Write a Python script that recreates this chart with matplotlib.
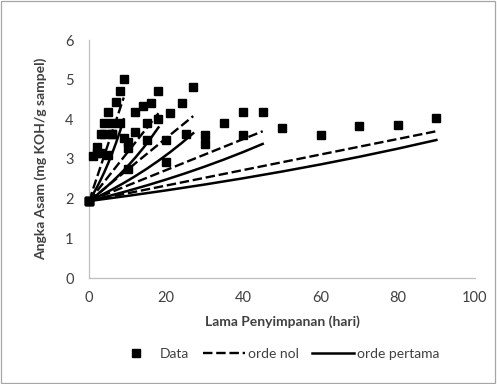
import numpy as np
import matplotlib
matplotlib.use("Agg")
import matplotlib.pyplot as plt
from matplotlib.patches import Rectangle
from matplotlib.lines import Line2D

plt.rcParams['font.family'] = ['Lato', 'DejaVu Sans']

# Acid value measurements per storage series (days, mg KOH/g sample)
t_a = [0, 1, 2, 3, 4, 5, 6, 7, 8, 9]
y_a = [1.94, 3.07, 3.30, 3.63, 3.91, 4.19, 3.91, 4.44, 4.72, 5.01]

t_b = [0, 2, 4, 6, 8, 10, 12, 14, 16, 18]
y_b = [1.94, 3.15, 3.63, 3.63, 3.91, 3.43, 4.19, 4.33, 4.42, 4.72]

t_c = [0, 3, 6, 9, 12, 15, 18, 21, 24, 27]
y_c = [1.94, 3.15, 3.63, 3.52, 3.67, 3.91, 4.02, 4.16, 4.42, 4.81]

t_d = [0, 5, 10, 15, 20, 25, 30, 35, 40, 45]
y_d = [1.94, 3.10, 3.27, 3.48, 2.93, 3.64, 3.39, 3.90, 3.60, 4.18]

t_e = [0, 10, 20, 30, 40, 50, 60, 70, 80, 90]
y_e = [1.94, 2.76, 3.48, 3.60, 4.18, 3.78, 3.60, 3.83, 3.85, 4.03]

# Rate constants for the kinetic models of each series
k_zero = [0.290, 0.123, 0.0793, 0.0391, 0.01956]
k_first = [0.0804, 0.0373, 0.0234, 0.01234, 0.00649]
c0 = 1.94

series_t = [t_a, t_b, t_c, t_d, t_e]
series_y = [y_a, y_b, y_c, y_d, y_e]

x_ticks = [0, 20, 40, 60, 80, 100]
y_ticks = [0, 1, 2, 3, 4, 5, 6]

fig = plt.figure(figsize=(4.97, 3.84), dpi=100)
ax = fig.add_axes([89 / 497, 106 / 384, 386 / 497, 238 / 384])

for t, y, k0, k1 in zip(series_t, series_y, k_zero, k_first):
    t = np.asarray(t, dtype=float)
    ax.plot(t, c0 + k0 * t, color='black', lw=1.7, ls=(0, (4, 1.6)),
            solid_capstyle='butt', zorder=2)
    ax.plot(t, c0 * np.exp(k1 * t), color='black', lw=1.8, zorder=2)

for t, y in zip(series_t, series_y):
    ax.plot(t, y, ls='none', marker='s', ms=6.3, color='black', zorder=3,
            clip_on=False)

ax.set_xlim(0, 100)
ax.set_ylim(0, 6)
ax.set_xticks(x_ticks)
ax.set_yticks(y_ticks)
ax.tick_params(length=0, labelsize=10.5, colors='#404040')
ax.tick_params(axis='y', pad=11)
ax.tick_params(axis='x', pad=9)
for s in ['top', 'right']:
    ax.spines[s].set_visible(False)
for s in ['left', 'bottom']:
    ax.spines[s].set_color('#bfbfbf')
    ax.spines[s].set_linewidth(0.9)

ax.set_xlabel('Lama Penyimpanan (hari)', fontsize=10, fontweight='bold',
              color='#404040', labelpad=8)
ax.set_ylabel('Angka Asam (mg KOH/g sampel)', fontsize=10, fontweight='bold',
              color='#404040', labelpad=13)

handles = [
    Line2D([], [], ls='none', marker='s', ms=6.3, color='black'),
    Line2D([], [], color='black', lw=1.7, ls=(0, (4, 1.6))),
    Line2D([], [], color='black', lw=1.8),
]
fig.legend(handles, ['Data', 'orde nol', 'orde pertama'], loc='center',
           bbox_to_anchor=(0.558, 1 - 354 / 384), ncol=3, frameon=False,
           fontsize=10, handlelength=3, handletextpad=0.2, columnspacing=1.0,
           labelcolor='#404040')

fig.patches.append(Rectangle((0.002, 0.003), 0.994, 0.994, transform=fig.transFigure,
                             fill=False, edgecolor='#a6a6a6', lw=0.9))

fig.savefig('out.png', dpi=100, facecolor='white')
